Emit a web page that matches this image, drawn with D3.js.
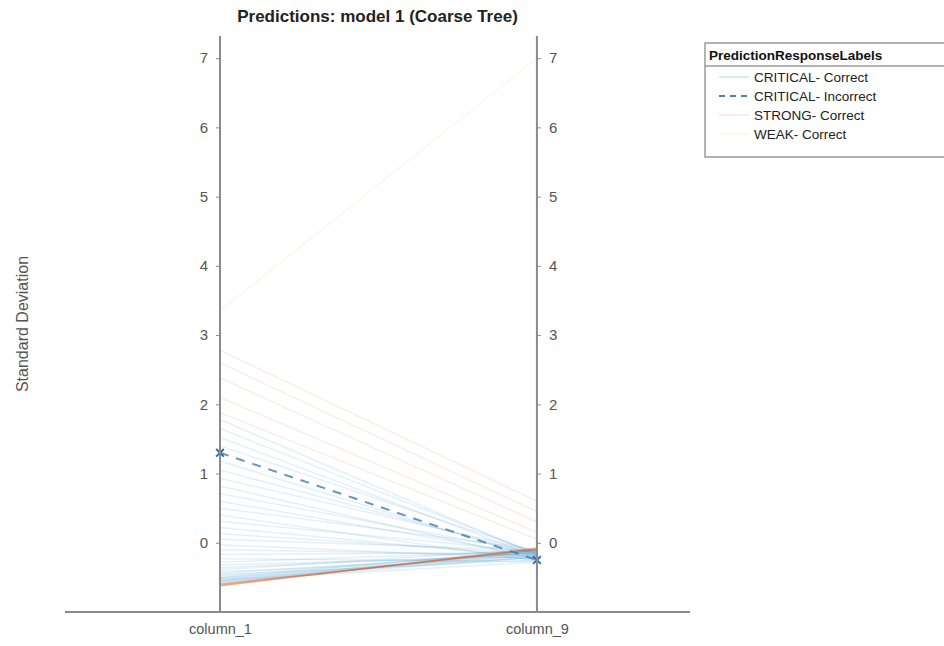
<!DOCTYPE html>
<html>
<head>
<meta charset="utf-8">
<script src="https://cdn.jsdelivr.net/npm/d3@7"></script>
<style>
  body { margin: 0; background: #fff; }
  svg { font-family: "Liberation Sans", Arial, sans-serif; }
</style>
</head>
<body>
<div id="chart"></div>
<script>
// axes of the parallel coordinates plot
const columns = ["column_1", "column_9"];
const yTicks = [0, 1, 2, 3, 4, 5, 6, 7];

// CRITICAL - Correct (start at column_1, end at column_9)
const criticalStart = [1.78, 1.65, 1.52, 1.40, 1.18, 1.05, 0.93, 0.82, 0.71, 0.60, 0.50, 0.40,
  0.31, 0.22, 0.13, 0.05, -0.03, -0.10, -0.17, -0.23, -0.28, -0.32, -0.36, -0.39, -0.42, -0.44,
  -0.46, -0.48, -0.50, -0.51, -0.52, -0.53, -0.54, -0.55, -0.56, -0.57, -0.58];
const criticalEnd = [-0.18, -0.16, -0.2, -0.14, -0.22, -0.17, -0.12, -0.24, -0.15, -0.19, -0.1, -0.26,
  -0.13, -0.21, -0.16, -0.11, -0.23, -0.18, -0.14, -0.27, -0.12, -0.2, -0.16, -0.09, -0.22, -0.15,
  -0.25, -0.12, -0.18, -0.1, -0.21, -0.14, -0.28, -0.17, -0.11, -0.2, -0.13];

// CRITICAL - Incorrect
const incorrectStart = [1.3];
const incorrectEnd = [-0.25];

// STRONG - Correct
const strongStart = [2.78, 2.6, 2.38, 2.1, 1.88, -0.6, -0.62];
const strongEnd = [0.6, 0.45, 0.3, 0.15, 0.05, -0.1, -0.08];

// WEAK - Correct
const weakStart = [3.35];
const weakEnd = [7.0];

const legendLabels = ["CRITICAL- Correct", "CRITICAL- Incorrect", "STRONG- Correct", "WEAK- Correct"];

const W = 944, H = 646;
const svg = d3.select("#chart").append("svg").attr("width", W).attr("height", H);

const x = d3.scaleLinear().domain([0.511, 2.483]).range([65, 690]);
const y = d3.scaleLinear().domain([-1, 7.32]).range([612, 36]);
const colX = i => x(i + 1);

const line = d3.line().x((d, i) => colX(i)).y(d => y(d));

function drawGroup(starts, ends, color, opacity, width, dash) {
  const pairs = starts.map((s, i) => [s, ends[i]]);
  svg.append("g").selectAll("path").data(pairs).enter().append("path")
    .attr("d", line)
    .attr("fill", "none")
    .attr("stroke", color)
    .attr("stroke-opacity", opacity)
    .attr("stroke-width", width)
    .attr("stroke-dasharray", dash || null);
}

drawGroup(weakStart, weakEnd, "#EDB120", 0.1, 1.5);
drawGroup(criticalStart, criticalEnd, "#0072BD", 0.11, 1.5);
drawGroup(strongStart.slice(0, 5), strongEnd.slice(0, 5), "#D95319", 0.1, 1.5);
drawGroup(strongStart.slice(5), strongEnd.slice(5), "#D95319", 0.5, 1.5);
drawGroup(incorrectStart, incorrectEnd, "#3f7ab0", 0.8, 2, "9,8");

// x markers on the incorrect line
const marks = incorrectStart.map((s, i) => [[0, s], [1, incorrectEnd[i]]]).flat();
svg.append("g").selectAll("path").data(marks).enter().append("path")
  .attr("d", d3.symbol(d3.symbolX, 40))
  .attr("transform", d => `translate(${colX(d[0])},${y(d[1])})`)
  .attr("stroke", "#2f6fa8").attr("stroke-width", 2).attr("fill", "none");

// vertical axes
const axisColor = "#8a8a8a";
const leftAxis = d3.axisLeft(y).tickValues(yTicks).tickSize(4).tickPadding(8);
const rightAxis = d3.axisRight(y).tickValues(yTicks).tickSize(4).tickPadding(8);
[[leftAxis, colX(0)], [rightAxis, colX(1)]].forEach(([ax, px]) => {
  const g = svg.append("g").attr("transform", `translate(${px},0)`).call(ax);
  g.select(".domain").attr("stroke", axisColor).attr("stroke-width", 2)
    .attr("d", `M0,${y.range()[0]}V${y.range()[1]}`);
  g.selectAll(".tick line").attr("stroke", axisColor);
  g.selectAll(".tick text").attr("fill", "#555").style("font-size", "15px");
});

// bottom axis
const xAxis = d3.axisBottom(x).tickValues([1, 2]).tickFormat((d, i) => columns[i])
  .tickSize(-4).tickPadding(12);
const gx = svg.append("g").attr("transform", `translate(0,${y(-1)})`).call(xAxis);
gx.select(".domain").attr("stroke", axisColor).attr("stroke-width", 2).attr("d", `M${x.range()[0]},0H${x.range()[1]}`);
gx.selectAll(".tick line").attr("stroke", axisColor);
gx.selectAll(".tick text").attr("fill", "#555").style("font-size", "14.5px");

// title and y label
svg.append("text").attr("x", (x.range()[0] + x.range()[1]) / 2).attr("y", 22)
  .attr("text-anchor", "middle").style("font-size", "17px").style("font-weight", "bold")
  .attr("fill", "#222").text("Predictions: model 1 (Coarse Tree)");
svg.append("text").attr("transform", `translate(28,${(y.range()[0] + y.range()[1]) / 2}) rotate(-90)`)
  .attr("text-anchor", "middle").style("font-size", "16px").attr("fill", "#555")
  .text("Standard Deviation");

// legend
const lg = svg.append("g").attr("transform", "translate(705,43)");
lg.append("rect").attr("width", 250).attr("height", 114).attr("fill", "#fff")
  .attr("stroke", "#9a9a9a").attr("stroke-width", 1.5);
lg.append("line").attr("x1", 0).attr("x2", 250).attr("y1", 23).attr("y2", 23)
  .attr("stroke", "#9a9a9a").attr("stroke-width", 1.5);
lg.append("text").attr("x", 4).attr("y", 17).style("font-size", "13.5px").style("font-weight", "bold")
  .attr("fill", "#111").text("PredictionResponseLabels");
const legendStyle = [
  {color: "#0072BD", op: 0.2, dash: null},
  {color: "#2f6fa8", op: 0.85, dash: "6,5"},
  {color: "#D95319", op: 0.15, dash: null},
  {color: "#EDB120", op: 0.15, dash: null}
];
const items = lg.selectAll(".item").data(legendLabels).enter().append("g")
  .attr("transform", (d, i) => `translate(0,${34 + i * 19})`);
items.append("line").attr("x1", 14).attr("x2", 44).attr("y1", 0).attr("y2", 0)
  .attr("stroke", (d, i) => legendStyle[i].color)
  .attr("stroke-opacity", (d, i) => legendStyle[i].op)
  .attr("stroke-width", (d, i) => i === 1 ? 2 : 1.5)
  .attr("stroke-dasharray", (d, i) => legendStyle[i].dash);
items.append("text").attr("x", 49).attr("y", 5).style("font-size", "13.5px").attr("fill", "#222")
  .text(d => d);
</script>
</body>
</html>
